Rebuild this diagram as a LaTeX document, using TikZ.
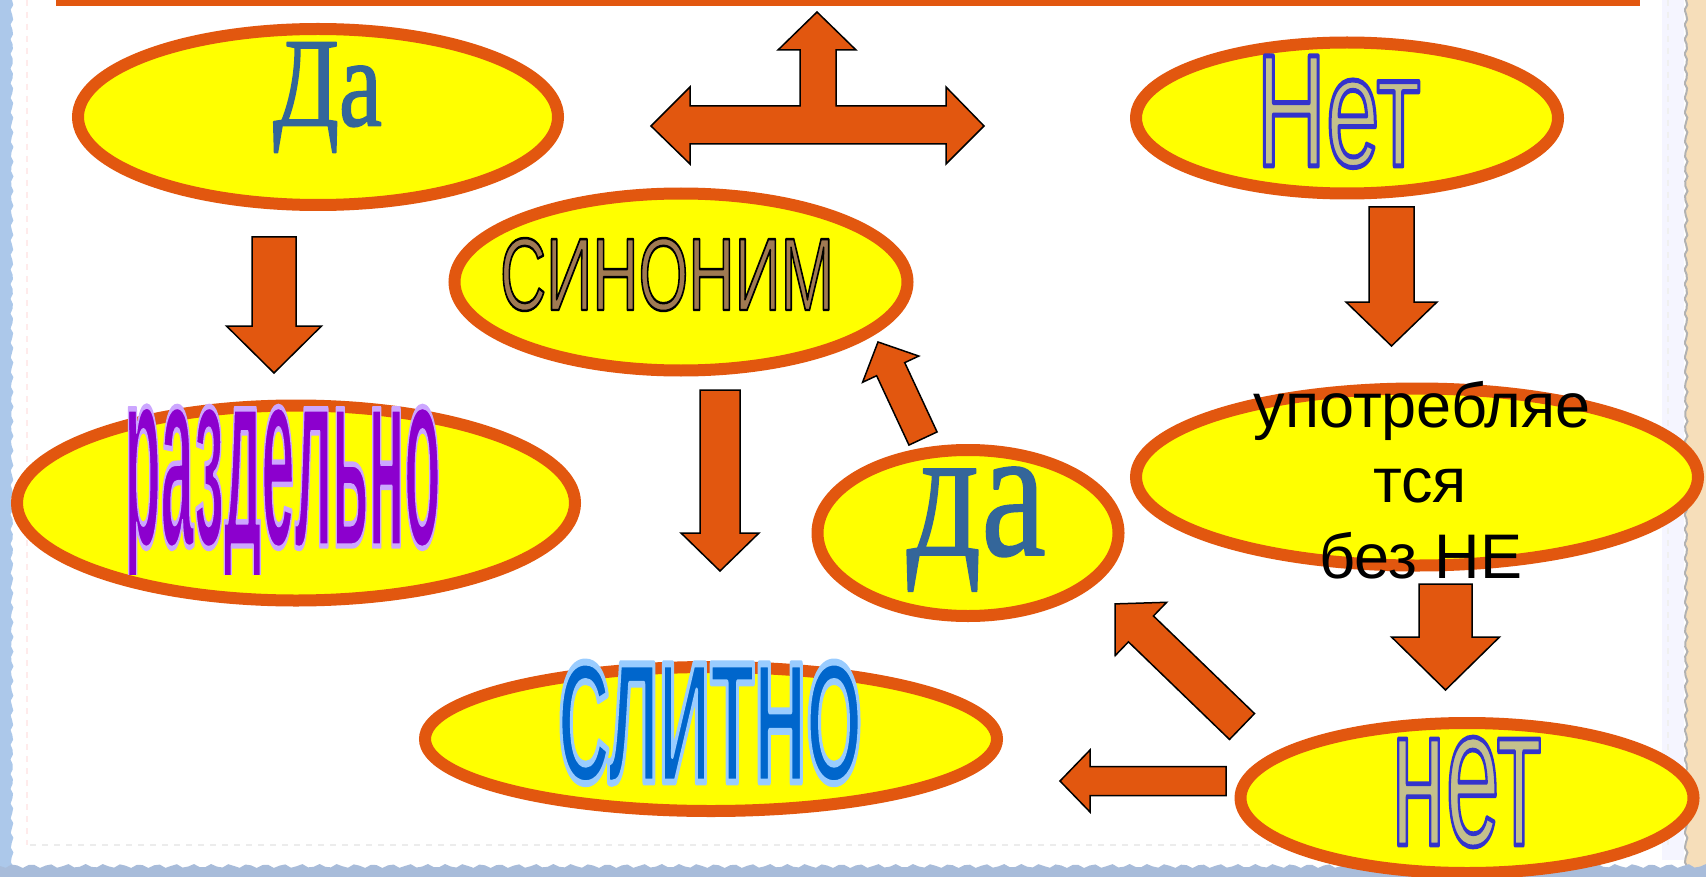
\documentclass[tikz,border=0pt]{standalone}
\usepackage{fontspec}
\setmainfont{Liberation Serif}
\newfontfamily\arialf{Liberation Sans}
\usetikzlibrary{shapes.geometric}
\definecolor{org}{RGB}{226,87,15}
\definecolor{yel}{RGB}{255,255,0}
\definecolor{steel}{RGB}{52,102,154}
\definecolor{netfill}{RGB}{196,192,140}
\definecolor{wood}{RGB}{160,122,82}
\definecolor{purp}{RGB}{140,0,206}
\definecolor{slblue}{RGB}{0,102,204}
\definecolor{lstrip}{RGB}{172,200,234}
\definecolor{rstrip}{RGB}{246,222,186}
\definecolor{bstrip}{RGB}{168,188,218}
\tikzset{
  bubble/.style={ellipse, draw=org, fill=yel, line width=6pt, inner sep=0pt},
  barrow/.style={fill=org, draw=black, line width=0.75pt, line join=miter},
  word/.style={inner sep=0pt, anchor=base},
  plain/.style={inner sep=0pt, anchor=base, text=black, font=\arialf\fontsize{31.5pt}{37.75pt}\selectfont},
}
% outlined text: #1 stroke colour (r g b), #2 stroke width, #3 text
\newcommand{\outlined}[3]{\special{pdf:literal direct #1 RG #2 w 1 j 2 Tr}#3\special{pdf:literal direct 0 Tr}}
\newcommand{\blockarrow}[7]{%
  \begin{scope}[shift={(#1,#2)},rotate=#3]
    \draw[barrow] (0,#5) -- ({#4-#7},#5) -- ({#4-#7},#6) -- (#4,0) -- ({#4-#7},-#6) -- ({#4-#7},-#5) -- (0,-#5) -- cycle;
  \end{scope}}
\begin{document}
\begin{tikzpicture}[x=0.5pt,y=-0.5pt]
\useasboundingbox (0,0) rectangle (1706,877);
\fill[white] (0,0) rectangle (1706,877);
% page borders
\fill[rstrip] (1706,0) -- plot[domain=0:877,samples=180] ({1686+1.5*sin(mod(\x,14.4)*25)},\x) -- (1706,877) -- cycle;
\draw[gray!60,line width=1pt] plot[domain=0:877,samples=180] ({1686+1.5*sin(mod(\x,14.4)*25)},\x);
\fill[blue!4] (1662,0) rectangle (1684,860);
\fill[lstrip] (0,0) -- plot[domain=0:877,samples=180] ({12+1.5*sin(mod(\x,14.4)*25)},\x) -- (0,877) -- cycle;
\fill[bstrip] (0,877) -- plot[domain=0:1706,samples=300] (\x,{866+2*sin(mod(\x,18)*20)}) -- (1706,877) -- cycle;
\draw[gray!15,dashed,line width=1pt] (30,845) -- (1660,845);
\draw[red!8,dashed,line width=1pt] (27,0) -- (27,845);
\draw[gray!12,dashed,line width=1pt] (1668,0) -- (1668,845);
% top bar
\fill[org] (56,0) rectangle (1640,6);
% ellipses
\node[bubble, minimum width=240pt, minimum height=88pt] (da1) at (318,117) {};
\node[bubble, minimum width=211pt, minimum height=75.5pt] (net1) at (1347,118) {};
\node[bubble, minimum width=226.5pt, minimum height=88.5pt] (sin) at (681,282) {};
\node[bubble, minimum width=279pt, minimum height=97.5pt] (razd) at (296,503) {};
\node[bubble, minimum width=286pt, minimum height=72pt] (slit) at (711,739) {};
\node[bubble, minimum width=150.5pt, minimum height=83pt] (da2) at (968,533) {};
\node[bubble, minimum width=281pt, minimum height=88.5pt] (upot) at (1417,477) {};
\node[bubble, minimum width=226.5pt, minimum height=75pt] (net2) at (1467,798) {};
% block arrows: tail x, tail y, angle, length, shaft half width, head half width, head length
\blockarrow{274}{237}{-90}{136}{22}{47.5}{47}
\blockarrow{1391.5}{207}{-90}{139}{22.5}{45.5}{44}
\blockarrow{720}{390}{-90}{181}{20}{39}{38}
\blockarrow{1445.5}{584}{-90}{106}{26.5}{54}{53}
\blockarrow{1226}{781}{180}{166}{14.5}{31}{30}
\blockarrow{1242}{726.5}{136}{176.5}{18}{37}{36}
\blockarrow{923}{438.5}{115}{106.5}{15.5}{31}{30}
% three-way arrow
\draw[barrow] (817,12) -- (856,50) -- (836,50) -- (836,106) -- (946,106) -- (946,87) -- (984,126)
  -- (946,164) -- (946,144) -- (690,144) -- (690,164) -- (651,126) -- (690,87) -- (690,106)
  -- (800,106) -- (800,50) -- (778,50) -- cycle;
% texts
\node[word, text=steel] (tDa) at (327.5,125.5) {\resizebox{54.5pt}{41.5pt}{\fontsize{62pt}{70pt}\selectfont\outlined{0.2 0.4 0.6}{0.9}{Да}}};
\node[word, text=steel] (tda) at (976.5,555) {\resizebox{69.5pt}{44pt}{\fontsize{96pt}{100pt}\selectfont\outlined{0.2 0.4 0.6}{0.9}{да}}};
\node[word, text=netfill] (tNet) at (1338.5,166) {\resizebox{82pt}{55pt}{\arialf\fontsize{77pt}{80pt}\selectfont\outlined{0.2 0.2 0.8}{2.4}{Нет}}};
\node[word, text=netfill] (tnet) at (1466.5,845) {\resizebox{75pt}{54pt}{\arialf\fontsize{70pt}{75pt}\selectfont\outlined{0.2 0.2 0.8}{1.65}{нет}}};
\node[word, text=wood] (tsin) at (667,310) {\resizebox{167pt}{36pt}{\arialf\fontsize{50pt}{55pt}\selectfont\outlined{0 0 0}{1.2}{СИНОНИМ}}};
\begin{scope}
  \clip (0,0) rectangle (1706,574);
  \node[word, text=purp] (traz) at (282.5,546) {\resizebox{158pt}{70pt}{\arialf\bfseries\fontsize{133pt}{140pt}\selectfont\outlined{0.8 0.65 1}{2.8}{раздельно}}};
\end{scope}
\node[word, text=slblue] (tsl) at (710,782) {\resizebox{152pt}{60pt}{\arialf\bfseries\fontsize{84pt}{90pt}\selectfont\outlined{0.6 0.8 1}{3.4}{СЛИТНО}}};
\node[plain] (u1) at (1422,427) {употребляе};
\node[plain] (u2) at (1420,502) {тся};
\node[plain] (u3) at (1421,578) {без НЕ};
\end{tikzpicture}
\end{document}
